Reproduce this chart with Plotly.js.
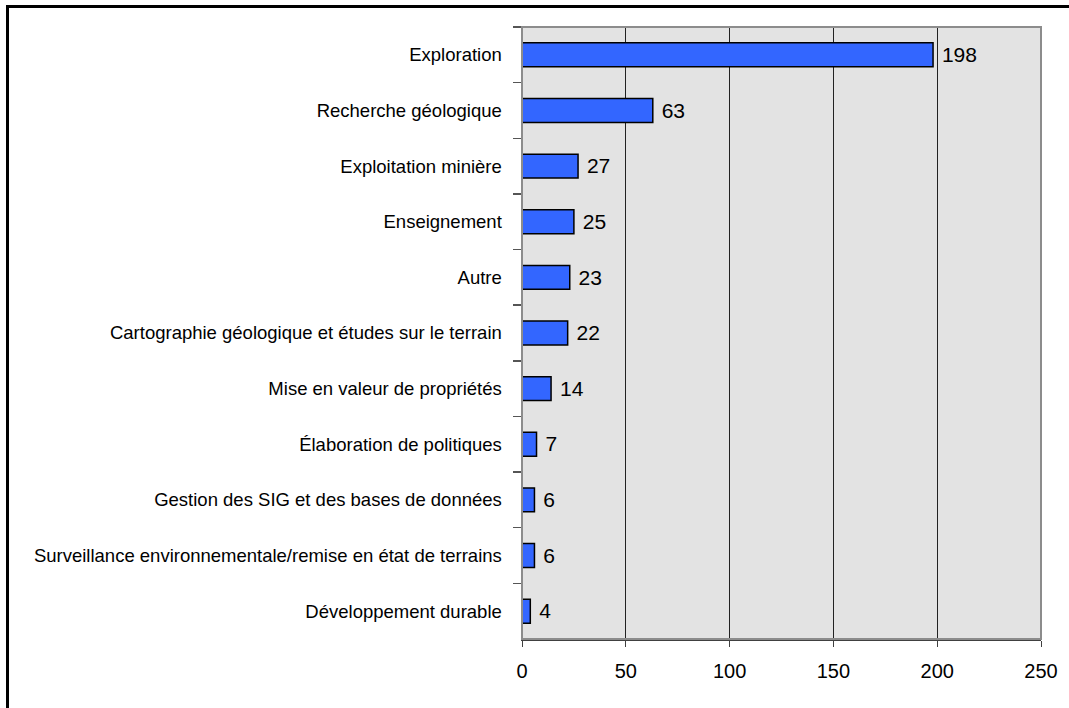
<!DOCTYPE html>
<html>
<head>
<meta charset="utf-8">
<script src="https://cdn.plot.ly/plotly-3.0.1.min.js"></script>
<style>
  html, body { margin: 0; padding: 0; background: #ffffff; }
  #frame { position: absolute; left: 6px; top: 5px; width: 1200px; height: 800px;
           border-left: 3px solid #000; border-top: 3px solid #000; }
  #chart { position: absolute; left: 0; top: 0; width: 1069px; height: 708px; }
</style>
</head>
<body>
<div id="frame"></div>
<div id="chart"></div>
<script>
const categories = [
  "Exploration",
  "Recherche géologique",
  "Exploitation minière",
  "Enseignement",
  "Autre",
  "Cartographie géologique et études sur le terrain",
  "Mise en valeur de propriétés",
  "Élaboration de politiques",
  "Gestion des SIG et des bases de données",
  "Surveillance environnementale/remise en état de terrains",
  "Développement durable"
];
const counts = [198, 63, 27, 25, 23, 22, 14, 7, 6, 6, 4];
const xTicks = [0, 50, 100, 150, 200, 250];

const trace = {
  type: 'bar',
  orientation: 'h',
  y: categories,
  x: counts,
  marker: { color: '#3366ff', line: { color: '#000000', width: 1.5 } },
  text: counts.map(v => '\u00a0' + v),
  textposition: 'outside',
  cliponaxis: false,
  textfont: { family: 'Liberation Sans, Arial, sans-serif', size: 22, color: '#000000' },
  hoverinfo: 'none'
};

const layout = {
  width: 1069, height: 708,
  margin: { l: 522, r: 28, t: 27, b: 69, pad: 0 },
  paper_bgcolor: 'rgba(0,0,0,0)',
  plot_bgcolor: '#e3e3e3',
  showlegend: false,
  bargap: 0.57,
  font: { family: 'Liberation Sans, Arial, sans-serif', color: '#000000' },
  xaxis: {
    range: [0, 250],
    tickvals: xTicks,
    ticktext: xTicks.map(String),
    showgrid: true, gridcolor: '#222222', gridwidth: 1,
    zeroline: false,
    showline: true, linecolor: '#404040', linewidth: 2,
    ticks: 'outside', ticklen: 6, tickcolor: '#404040', tickwidth: 1,
    ticklabelstandoff: 7,
    tickfont: { size: 20, color: '#000000' },
    fixedrange: true
  },
  yaxis: {
    autorange: 'reversed',
    type: 'category',
    showgrid: false, zeroline: false,
    showline: true, linecolor: '#000000', linewidth: 1.5,
    ticks: 'outside', ticklen: 8, tickcolor: '#555555', tickwidth: 1.5,
    tickson: 'boundaries',
    ticklabelstandoff: 15,
    tickfont: { size: 18.5, color: '#000000' },
    fixedrange: true
  },
  shapes: [
    { type: 'rect', xref: 'paper', yref: 'paper', x0: 0, x1: 1, y0: 0, y1: 1,
      line: { color: '#8c8c8c', width: 2 }, fillcolor: 'rgba(0,0,0,0)', layer: 'above' }
  ]
};

Plotly.newPlot('chart', [trace], layout, { displayModeBar: false, staticPlot: true });
</script>
</body>
</html>
